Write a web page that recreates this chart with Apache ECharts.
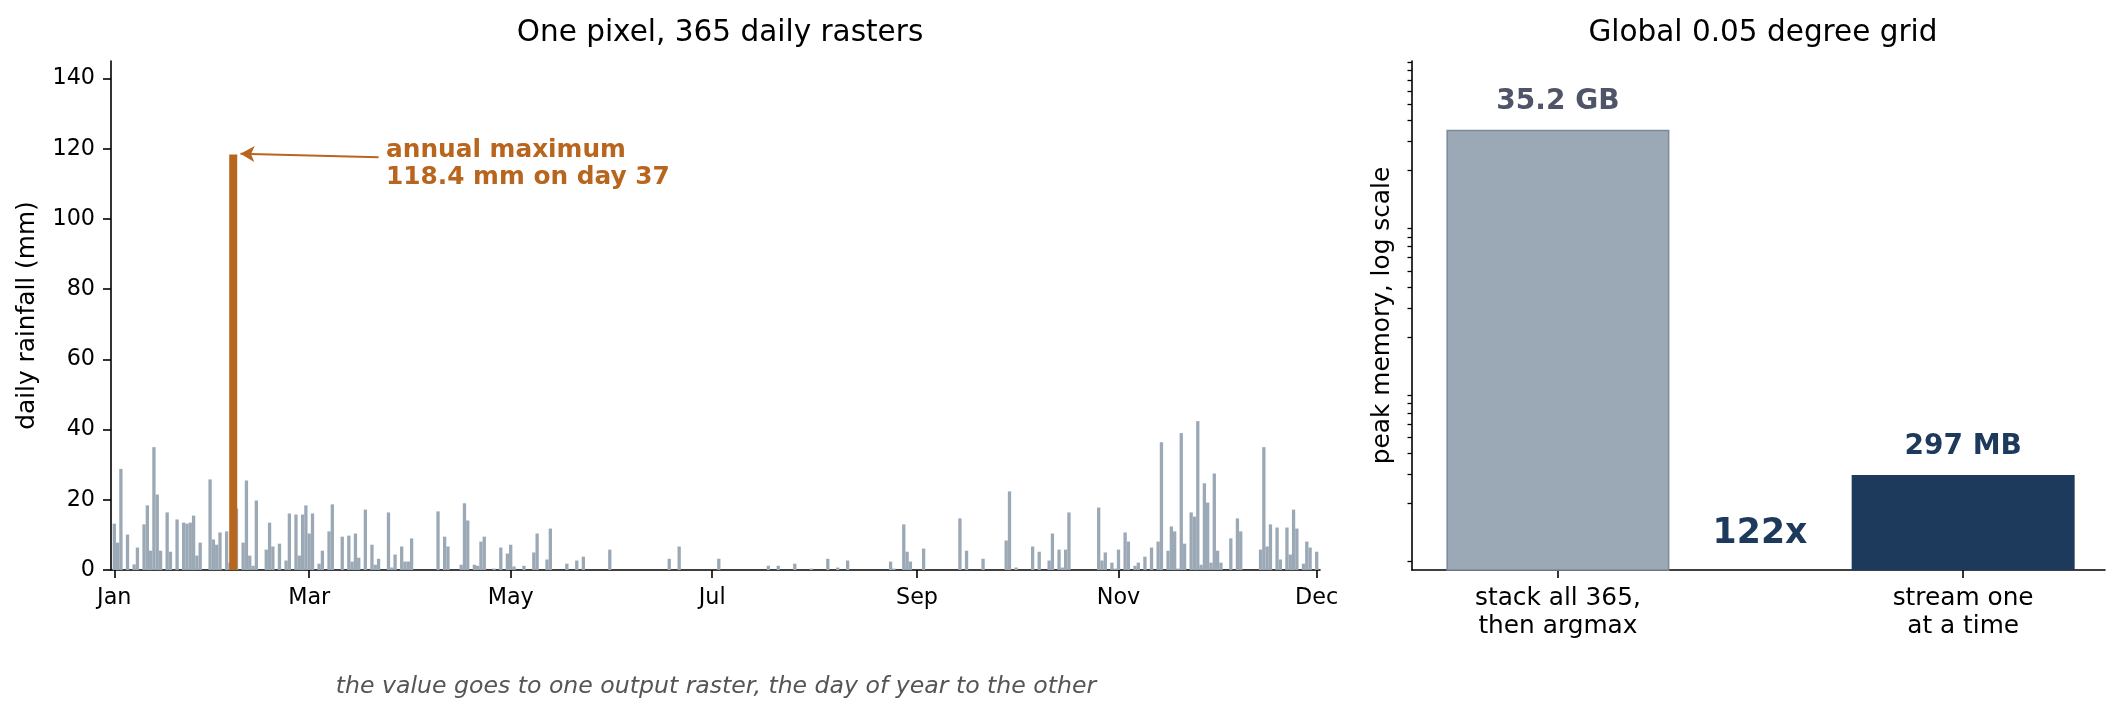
<!DOCTYPE html>
<html><head><meta charset="utf-8">
<script src="https://cdn.jsdelivr.net/npm/echarts@6/dist/echarts.min.js"></script>
<style>html,body{margin:0;padding:0;background:#fff}#c{width:2123px;height:713px}</style>
</head><body><div id="c"></div>
<script>
// ---- data ----
const wetDays = [1,2,3,5,7,8,10,11,12,13,14,15,17,18,20,22,23,24,25,26,27,30,31,32,33,35,36,38,40,41,42,43,44,47,48,49,51,53,54,56,57,58,59,60,61,63,64,66,67,70,
72,73,74,75,77,79,80,81,84,85,86,88,89,90,91,99,101,102,106,107,108,110,111,112,113,116,118,120,121,122,125,128,129,132,133,138,141,143,
151,169,172,184,199,202,207,212,217,220,223,236,237,240,241,242,246,257,259,264,271,272,274,279,281,284,285,287,288,289,290,
299,300,301,303,304,305,307,308,310,311,313,315,317,318,320,321,322,323,324,325,327,328,329,330,331,332,333,334,335,336,339,341,342,
348,349,350,351,353,354,356,357,358,359,361,362,363,365];
const wetMm = [13.2,7.8,28.8,10.1,1.6,6.4,13.0,18.4,5.5,35.0,21.5,5.5,16.4,5.2,14.4,13.5,13.2,13.5,15.5,4.1,7.8,25.8,8.7,7.2,10.7,11.0,2.1,17.5,7.8,25.5,4.1,1.2,19.8,5.8,13.5,6.7,7.5,2.7,16.1,15.8,4.1,15.8,18.4,10.4,16.1,1.8,5.5,11.0,18.7,9.5,
9.8,2.4,10.4,3.5,17.2,7.2,1.5,3.2,16.4,0.7,4.4,6.7,2.4,2.4,9.0,16.7,9.5,6.7,1.5,19.0,14.1,1.5,1.2,8.1,9.5,0.4,6.4,4.7,7.2,1.0,1.2,5.0,10.4,3.0,11.8,1.8,2.7,3.8,
5.8,3.2,6.7,3.2,1.2,1.2,1.8,0.4,3.2,0.7,2.7,2.4,0.4,13.0,5.2,2.4,6.1,14.7,5.5,3.2,8.4,22.4,0.7,6.7,5.2,2.7,10.4,5.8,0.7,5.8,16.4,
17.8,2.7,5.0,2.1,0.4,5.8,10.7,8.1,1.2,2.1,3.8,6.4,8.1,36.4,5.5,12.4,11.0,0.4,39.0,7.5,16.4,15.2,42.4,1.5,24.7,19.2,2.1,27.5,5.5,2.1,9.0,14.7,11.0,
5.8,35.0,6.7,13.0,12.1,3.0,12.1,4.4,17.2,11.8,1.8,8.1,6.4,5.2];
const maxDay = 37;
const maxMm = 118.4;
const monthTickDays = [1,60,121,182,244,305,365];
const monthTickLabels = ['Jan','Mar','May','Jul','Sep','Nov','Dec'];
const rainTicks = [0,20,40,60,80,100,120,140];
const methods = ['stack all 365,\nthen argmax','stream one\nat a time'];
const peakMemoryMB = [35200, 297];
const peakMemoryLabels = ['35.2 GB','297 MB'];
const memMinorTicks = [90,200,300,400,500,600,700,800,900,2000,3000,4000,5000,6000,7000,8000,9000,20000,30000,40000,50000,60000,70000,80000,90000];
const speedupText = '122x';

// ---- style ----
const FONT = 'DejaVu Sans';
const GRAY = '#9ba8b5';
const ORANGE = '#b8651e';
const NAVY = '#1d3a5c';
const SLATE = '#4f5468';
const AX = {color:'#000', width:1.6};

const chart = echarts.init(document.getElementById('c'), null, {renderer:'canvas'});
const option = {
  animation:false,
  backgroundColor:'#fff',
  textStyle:{fontFamily:FONT},
  title:[
    {text:'One pixel, 365 daily rasters', left:715, top:13, textAlign:'center',
     textStyle:{fontSize:29.5, fontWeight:'normal', color:'#000', fontFamily:FONT}},
    {text:'Global 0.05 degree grid', left:1758, top:13, textAlign:'center',
     textStyle:{fontSize:29.5, fontWeight:'normal', color:'#000', fontFamily:FONT}}
  ],
  grid:[
    {left:111, top:61, width:1209, height:509},
    {left:1412, top:61, width:693, height:509}
  ],
  xAxis:[
    {type:'value', gridIndex:0, min:0, max:366,
     axisLine:{show:true, onZero:false, lineStyle:AX}, splitLine:{show:false},
     axisTick:{show:true, length:8, lineStyle:AX, customValues:monthTickDays},
     axisLabel:{customValues:monthTickDays, formatter:v=>monthTickLabels[monthTickDays.indexOf(v)],
       fontSize:22.3, color:'#000', margin:17, fontFamily:FONT}},
    {type:'value', gridIndex:0, min:0, max:366, show:false},
    {type:'value', gridIndex:1, min:-0.36, max:1.35,
     axisLine:{show:true, onZero:false, lineStyle:AX}, splitLine:{show:false},
     axisTick:{show:true, length:8, lineStyle:AX, customValues:[0,1]},
     axisLabel:{customValues:[0,1], formatter:v=>methods[Math.round(v)], fontSize:24.8, lineHeight:28,
       color:'#000', margin:15, fontFamily:FONT}}
  ],
  yAxis:[
    {type:'value', gridIndex:0, min:0, max:145,
     name:'daily rainfall (mm)', nameLocation:'middle', nameGap:71,
     nameTextStyle:{fontSize:24.8, color:'#000', fontFamily:FONT},
     axisLine:{show:true, onZero:false, lineStyle:AX}, splitLine:{show:false},
     axisTick:{show:true, length:8, lineStyle:AX, customValues:rainTicks},
     axisLabel:{customValues:rainTicks, fontSize:22.3, color:'#000', margin:16, fontFamily:FONT, padding:[3,0,0,0]}},
    {type:'log', gridIndex:1, logBase:10, min:80, max:91000,
     name:'peak memory, log scale', nameLocation:'middle', nameGap:17,
     nameTextStyle:{fontSize:24.8, color:'#000', fontFamily:FONT},
     axisLine:{show:true, onZero:false, lineStyle:AX}, splitLine:{show:false},
     axisTick:{show:true, length:4.5, lineStyle:{color:'#000', width:1.3}, customValues:memMinorTicks},
     axisLabel:{show:false}, minorTick:{show:false}}
  ],
  series:[
    {type:'bar', name:'daily', xAxisIndex:0, yAxisIndex:0, barWidth:'100%', clip:true,
     itemStyle:{color:GRAY},
     data: wetDays.map((d,i)=>[d, wetMm[i]])},
    {type:'bar', name:'max', xAxisIndex:1, yAxisIndex:0, barWidth:8, clip:true,
     itemStyle:{color:ORANGE},
     data:[[maxDay, maxMm]],
     markLine:{silent:true, symbol:['none','arrow'], symbolSize:[12,14],
       lineStyle:{color:ORANGE, width:2, type:'solid'}, label:{show:false},
       data:[[{coord:[81, 117.6]},{coord:[39.2, 118.6]}]]}},
    {type:'bar', name:'memory', xAxisIndex:2, yAxisIndex:1, barWidth:223, clip:true,
     data: peakMemoryMB.map((v,i)=>({
       value:[i, v],
       itemStyle: i===0 ? {color:GRAY, borderColor:'#7d8a98', borderWidth:1.5} : {color:NAVY},
       label:{show:true, position:'top', distance:14, formatter:peakMemoryLabels[i],
         fontSize:28, fontWeight:'bold', color: i===0 ? SLATE : NAVY, fontFamily:FONT}
     }))}
  ],
  graphic:[
    {type:'text', left:386, top:137, silent:true,
     style:{text:'annual maximum\n118.4 mm on day 37', font:'bold 24.8px "DejaVu Sans"', lineHeight:27, fill:ORANGE}},
    {type:'text', x:1760, y:534, silent:true,
     style:{text:speedupText, font:'bold 34.7px "DejaVu Sans"', fill:NAVY, align:'center', verticalAlign:'middle'}},
    {type:'text', x:716, y:687, silent:true,
     style:{text:'the value goes to one output raster, the day of year to the other', font:'italic 23.6px "DejaVu Sans"', fill:'#555', align:'center', verticalAlign:'middle'}}
  ]
};
chart.setOption(option);
</script></body></html>
